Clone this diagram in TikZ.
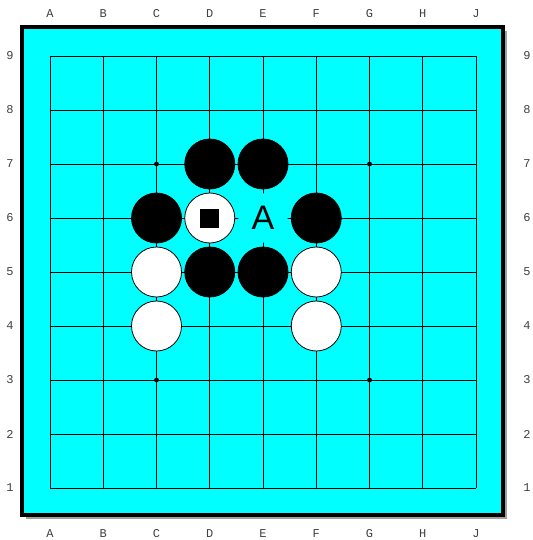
\documentclass[tikz,border=0pt]{standalone}
\usepackage{fontspec}
\newfontfamily\coordfont{Liberation Mono}
\newfontfamily\markfont{Liberation Sans}
\usetikzlibrary{positioning}
\definecolor{boardcyan}{RGB}{0,255,255}
\definecolor{shadowgray}{RGB}{160,160,160}

\begin{document}
\begin{tikzpicture}[
    x=39.94pt, y=-40.5pt,
    stone/.style={circle, draw, inner sep=0pt, minimum size=37.5pt, line width=0.6pt},
    black stone/.style={stone, fill=black},
    white stone/.style={stone, fill=white},
    hoshi/.style={circle, fill=black, inner sep=0pt, minimum size=3.6pt},
    coord/.style={font=\coordfont\fontsize{9}{9}\selectfont, text=black!75},
    grid line/.style={line width=0.75pt}
]
\useasboundingbox (-0.939,-1.037) rectangle (9.052,8.963);
% Board with shadow
\fill[shadowgray] (-0.46,-0.472) rectangle (8.582,8.565);
\draw[line width=3pt, fill=boardcyan] (-0.535,-0.546) rectangle (8.507,8.491);
% Grid
\foreach \i in {0,...,8} {
  \draw[grid line] (\i,0) -- (\i,8);
  \draw[grid line] (0,\i) -- (8,\i);
}
% Coordinates
\foreach \l [count=\i from 0] in {A,B,C,D,E,F,G,H,J} {
  \node[coord] (top\l) at (\i,-0.778) {\l};
  \node[coord] (bot\l) at (\i,8.84) {\l};
}
\foreach \r in {1,...,9} {
  \node[coord] (left\r) at (-0.751,9-\r) {\r};
  \node[coord] (right\r) at (8.958,9-\r) {\r};
}
% Star points
\node[hoshi] (c7) at (2,2) {};
\node[hoshi] (g7) at (6,2) {};
\node[hoshi] (c3) at (2,6) {};
\node[hoshi] (g3) at (6,6) {};
% Black stones
\node[black stone] (d7) at (3,2) {};
\node[black stone] (e7) at (4,2) {};
\node[black stone] (c6) at (2,3) {};
\node[black stone] (f6) at (5,3) {};
\node[black stone] (d5) at (3,4) {};
\node[black stone] (e5) at (4,4) {};
% White stones
\node[white stone] (d6) at (3,3) {};
\node[white stone] (c5) at (2,4) {};
\node[white stone] (f5) at (5,4) {};
\node[white stone] (c4) at (2,5) {};
\node[white stone] (f4) at (5,5) {};
% Marks
\node[fill=black, inner sep=0pt, minimum size=14.25pt] (last) at (d6) {};
\node[circle, fill=boardcyan, inner sep=0pt, minimum size=37pt,
      font=\markfont\fontsize{25.5}{25.5}\selectfont] (markA) at (4,3) {A};
\end{tikzpicture}
\end{document}
